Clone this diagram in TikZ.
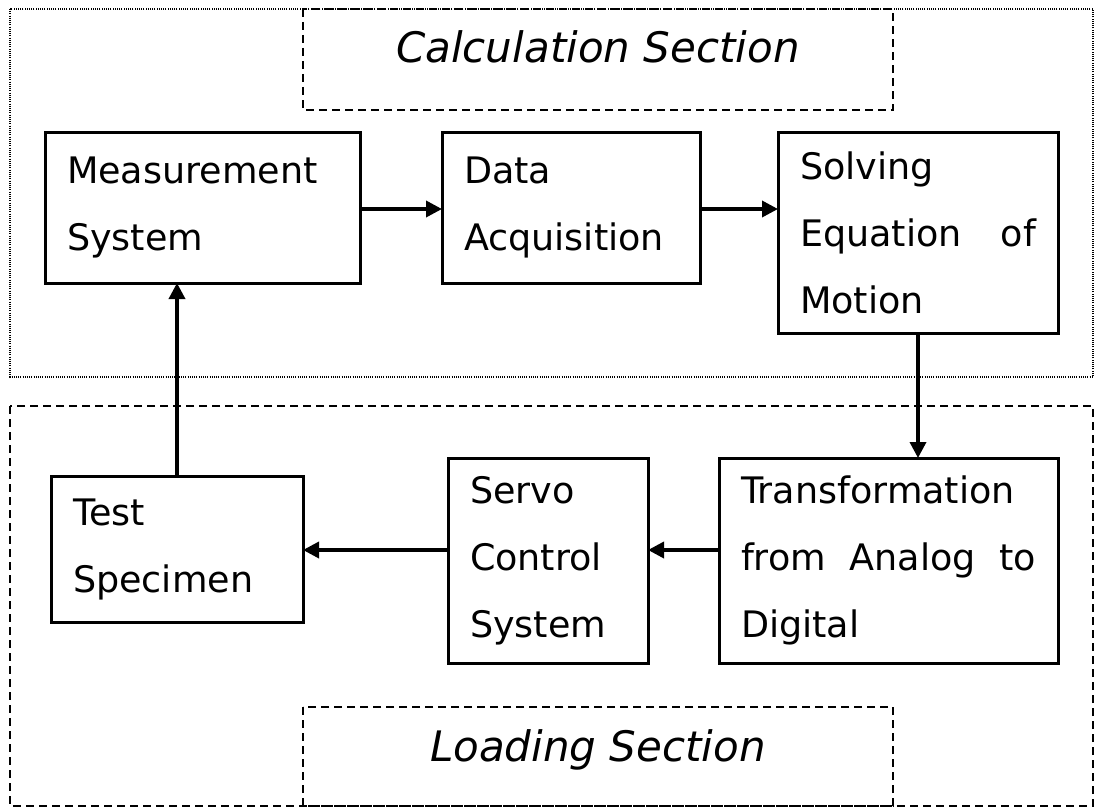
\documentclass[tikz,border=0pt]{standalone}
\usepackage{fontspec}
\setmainfont{DejaVu Sans}
\usetikzlibrary{arrows.meta}
\begin{document}
\begin{tikzpicture}[x=1pt,y=-1pt,
  block/.style={draw, line width=3pt, outer sep=0pt, anchor=north west,
    inner xsep=22pt, inner ysep=0pt, align=left,
    font=\fontsize{36.5}{67}\selectfont},
  flow/.style={line width=3.5pt, -{Triangle[length=16pt,width=16pt]}},
  framedot/.style={line width=1.1pt, dash pattern=on 1pt off 1.2pt},
  framedash/.style={line width=2.2pt, dash pattern=on 8pt off 5pt},
  sectitle/.style={font=\fontsize{42}{50}\selectfont\itshape, anchor=base, inner sep=0pt}
]
\useasboundingbox (0,0) rectangle (1095,808);

% section frames
\draw[framedot] (10,9) rectangle (1093,377);
\draw[framedash] (303,9) rectangle (893,110);
\draw[framedash] (10,406) rectangle (1093,806);
\draw[framedash] (303,707) rectangle (893,806);

\node[sectitle] (calctitle) at (598,63) {Calculation Section};
\node[sectitle] (loadtitle) at (598,761) {Loading Section};

% blocks
\node[block, text width=271pt, minimum width=315pt, minimum height=151pt]
  (meas) at (45,132) {Measurement\\System};
\node[block, text width=214pt, minimum width=258pt, minimum height=151pt]
  (daq) at (442,132) {Data\\Acquisition};
\node[block, text width=236pt, minimum width=280pt, minimum height=201pt]
  (solve) at (778,132) {Solving\\Equation\hfill of\\Motion};
\node[block, text width=295pt, minimum width=339pt, minimum height=205pt]
  (trans) at (719,458) {Transformation\\from\hfill Analog\hfill to\\Digital};
\node[block, text width=156pt, minimum width=200pt, minimum height=205pt]
  (servo) at (448,458) {Servo\\Control\\System};
\node[block, text width=208pt, minimum width=252pt, minimum height=146pt]
  (test) at (51,476) {Test\\Specimen};

\coordinate (toprow) at (0,209);
\coordinate (lowrow) at (0,550);

% signal flow
\draw[flow] (meas.east |- toprow) -- (daq.west |- toprow);
\draw[flow] (daq.east |- toprow) -- (solve.west |- toprow);
\draw[flow] (solve.south) -- (solve.south |- trans.north);
\draw[flow] (trans.west |- lowrow) -- (servo.east |- lowrow);
\draw[flow] (servo.west |- lowrow) -- (test.east |- lowrow);
\draw[flow] (test.north) -- (test.north |- meas.south);
\end{tikzpicture}
\end{document}
